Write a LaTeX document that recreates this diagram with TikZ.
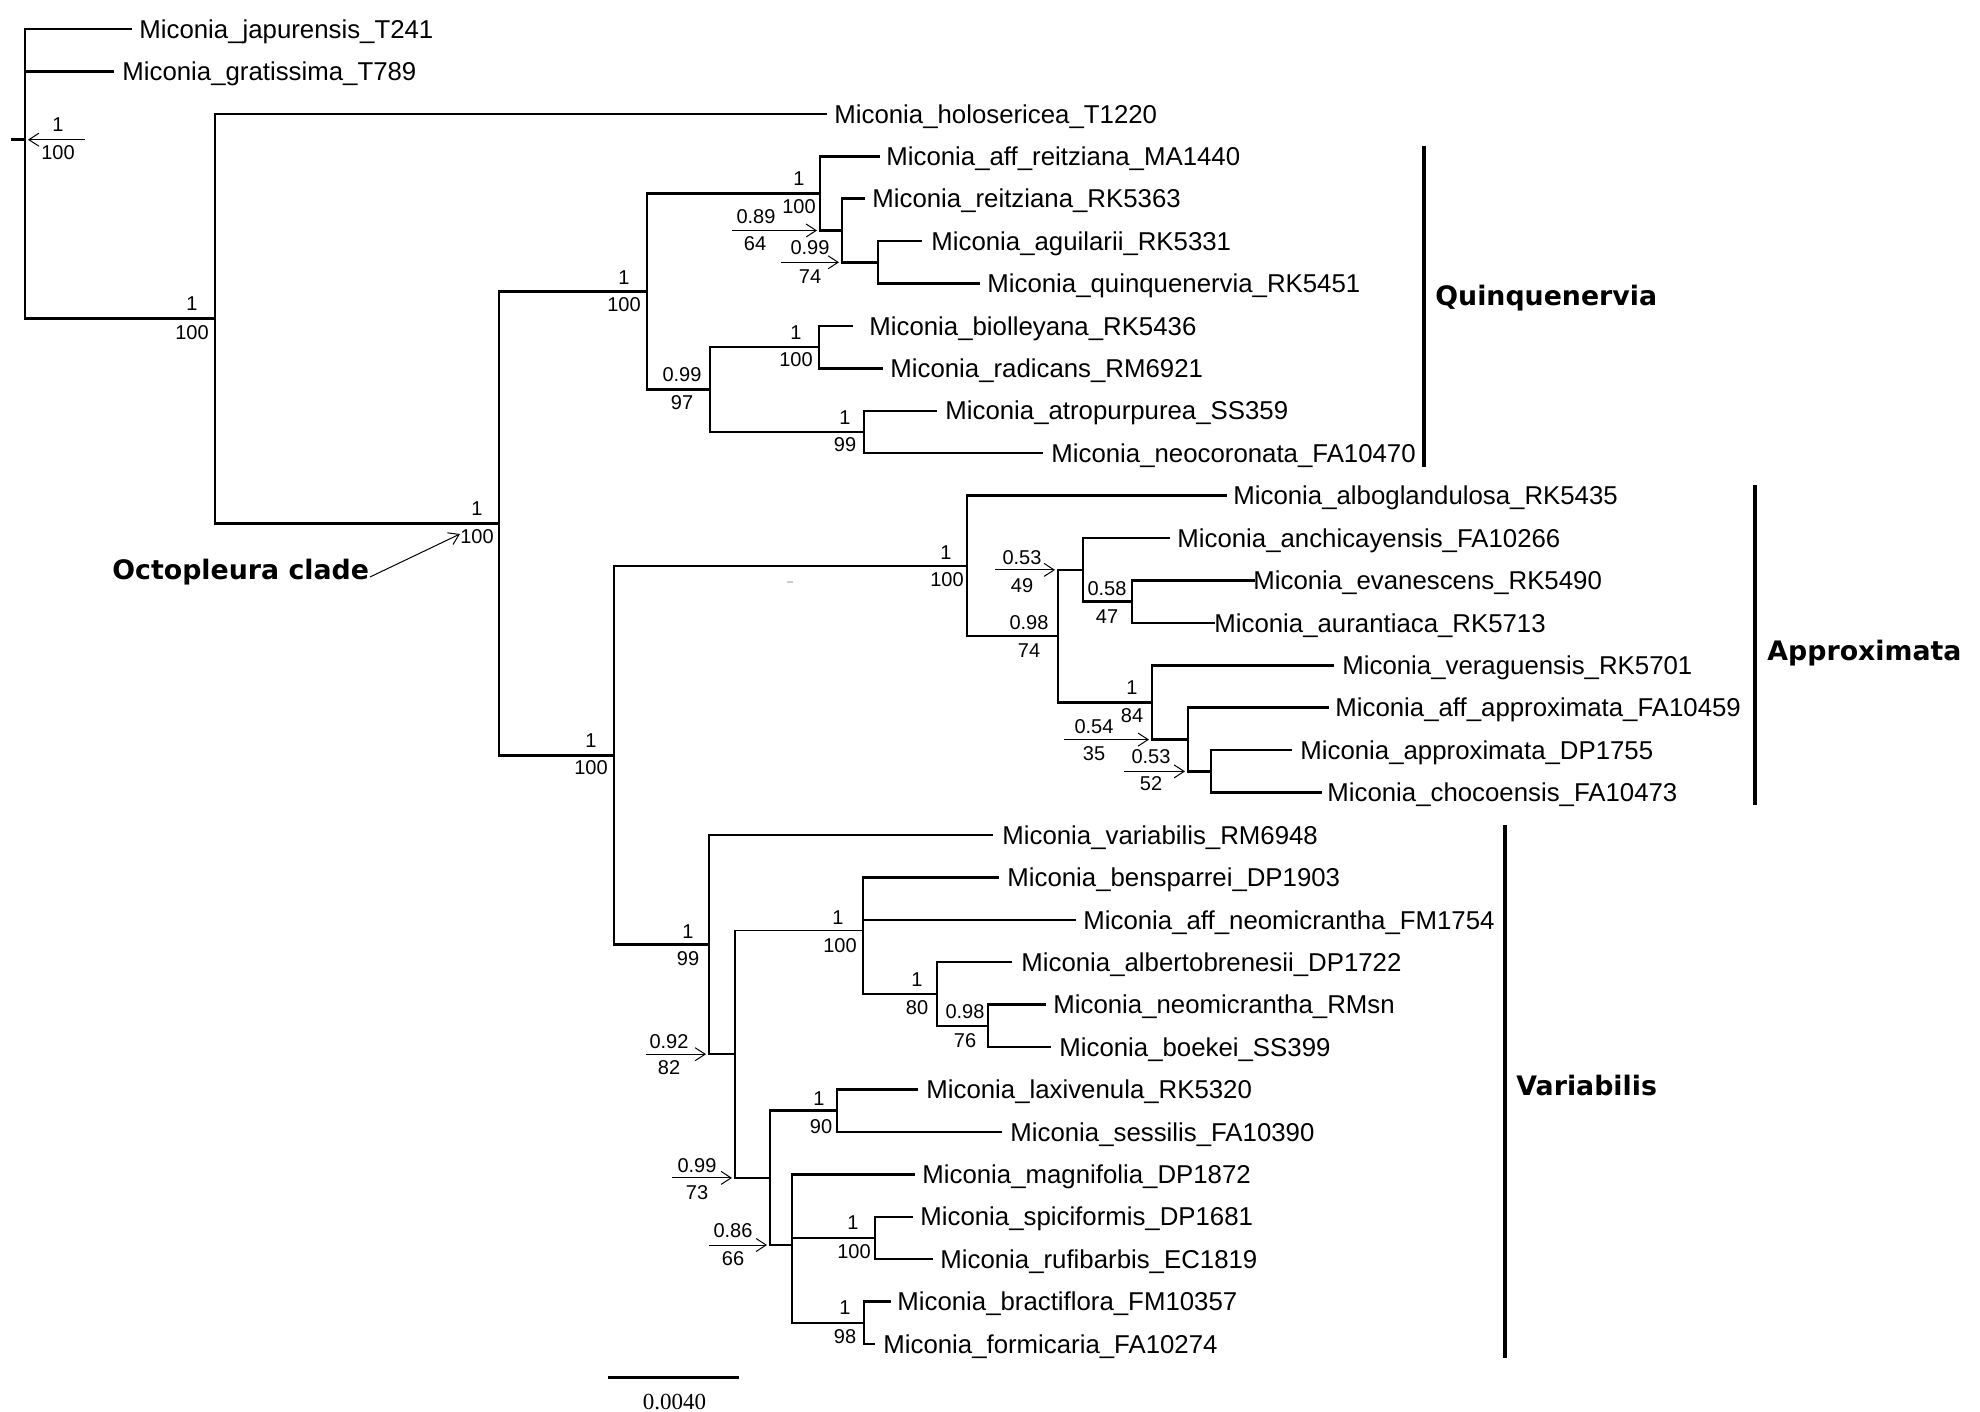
\documentclass[tikz,border=0pt]{standalone}
\usepackage{fontspec}
\setmainfont{Liberation Sans}
\newfontfamily\cladefam{DejaVu Sans}
\newfontfamily\scalefam{Liberation Serif}
\usetikzlibrary{arrows.meta}
\newcommand\tipfont{\fontsize{12.9pt}{15pt}\selectfont}
\newcommand\svfont{\fontsize{10pt}{12pt}\selectfont}
\newcommand\cladefont{\cladefam\bfseries\fontsize{13.4pt}{16pt}\selectfont}
\newcommand\mytip[4]{%
  \coordinate (e#1) at (#2,{29+42.42*#1});
  \node[tip] (n#1) at (#3,{29+42.42*#1}) {#4};}
\newcommand\mysv[4]{\node[sv] (#1) at (#2,#3) {#4};}
\begin{document}
\begin{tikzpicture}[x=0.5pt,y=-0.5pt,
  br/.style={line width=1.25pt, line join=miter},
  thinbr/.style={line width=0.8pt, line join=miter},
  brk/.style={line width=1.6pt},
  sarrow/.style={line width=0.5pt, -{Straight Barb[length=5pt,width=6.5pt]}, shorten >=1.5pt},
  tip/.style={anchor=base west, inner sep=0pt, font=\tipfont, yshift=-4.6pt},
  sv/.style={inner sep=0pt, anchor=center, font=\svfont},
  clade/.style={anchor=base west, inner sep=0pt, font=\cladefont, yshift=-4.9pt}]

\fill[white] (0,0) rectangle (1980,1412);
\useasboundingbox (0,0) rectangle (1980,1412);

% internal nodes
\coordinate (rs) at (11,139.7);
\coordinate (root) at (25,139.7);
\coordinate (A) at (215,318.6);
\coordinate (Oct) at (499,523.4);
\coordinate (Q) at (647,291.5);
\coordinate (Qa) at (820,193.4);
\coordinate (C) at (842,230.5);
\coordinate (D) at (878,262.3);
\coordinate (E) at (710,389.6);
\coordinate (F) at (819,347.2);
\coordinate (G) at (864,432);
\coordinate (H) at (614,755.3);
\coordinate (I) at (967,565.9);
\coordinate (J) at (1058,636.2);
\coordinate (K) at (1083,569.9);
\coordinate (L) at (1132,601.7);
\coordinate (M) at (1152,702.4);
\coordinate (N) at (1188,739.6);
\coordinate (O) at (1211,771.4);
\coordinate (P) at (709,944.6);
\coordinate (Qv) at (735,1054.2);
\coordinate (S) at (863,930.4);
\coordinate (T) at (937,994);
\coordinate (U) at (988,1025.9);
\coordinate (R) at (770,1177.9);
\coordinate (V) at (837,1110.7);
\coordinate (W) at (792,1245);
\coordinate (X) at (875,1238);
\coordinate (Y) at (864,1322.8);

% tips
\mytip{0}{132}{139}{Miconia\_japurensis\_T241}
\mytip{1}{114}{122}{Miconia\_gratissima\_T789}
\mytip{2}{827}{834}{Miconia\_holosericea\_T1220}
\mytip{3}{880}{886}{Miconia\_aff\_reitziana\_MA1440}
\mytip{4}{865}{872}{Miconia\_reitziana\_RK5363}
\mytip{5}{922}{931}{Miconia\_aguilarii\_RK5331}
\mytip{6}{980}{987}{Miconia\_quinquenervia\_RK5451}
\mytip{7}{853}{869}{Miconia\_biolleyana\_RK5436}
\mytip{8}{883}{890}{Miconia\_radicans\_RM6921}
\mytip{9}{937}{945}{Miconia\_atropurpurea\_SS359}
\mytip{10}{1043}{1051}{Miconia\_neocoronata\_FA10470}
\mytip{11}{1227}{1233}{Miconia\_alboglandulosa\_RK5435}
\mytip{12}{1170}{1177}{Miconia\_anchicayensis\_FA10266}
\mytip{13}{1255}{1253}{Miconia\_evanescens\_RK5490}
\mytip{14}{1215}{1214}{Miconia\_aurantiaca\_RK5713}
\mytip{15}{1334}{1342}{Miconia\_veraguensis\_RK5701}
\mytip{16}{1329}{1335}{Miconia\_aff\_approximata\_FA10459}
\mytip{17}{1292}{1300}{Miconia\_approximata\_DP1755}
\mytip{18}{1322}{1327}{Miconia\_chocoensis\_FA10473}
\mytip{19}{993}{1002}{Miconia\_variabilis\_RM6948}
\mytip{20}{999}{1007}{Miconia\_bensparrei\_DP1903}
\mytip{21}{1076}{1083}{Miconia\_aff\_neomicrantha\_FM1754}
\mytip{22}{1012}{1021}{Miconia\_albertobrenesii\_DP1722}
\mytip{23}{1046}{1053}{Miconia\_neomicrantha\_RMsn}
\mytip{24}{1051}{1059}{Miconia\_boekei\_SS399}
\mytip{25}{918}{926}{Miconia\_laxivenula\_RK5320}
\mytip{26}{1002}{1010}{Miconia\_sessilis\_FA10390}
\mytip{27}{915}{922}{Miconia\_magnifolia\_DP1872}
\mytip{28}{913}{920}{Miconia\_spiciformis\_DP1681}
\mytip{29}{933}{940}{Miconia\_rufibarbis\_EC1819}
\mytip{30}{891}{897}{Miconia\_bractiflora\_FM10357}
\mytip{31}{875}{883}{Miconia\_formicaria\_FA10274}

% branches
\draw[br] (rs) -- (root);
\draw[br] (root) |- (e0);
\draw[br] (root) |- (e1);
\draw[br] (root) |- (A);
\draw[br] (A) |- (e2);
\draw[br] (A) |- (Oct);
\draw[br] (Oct) |- (Q);
\draw[br] (Oct) |- (H);
\draw[br] (Q) |- (Qa);
\draw[br] (Q) |- (E);
\draw[br] (Qa) |- (e3);
\draw[br] (Qa) |- (C);
\draw[br] (C) |- (e4);
\draw[br] (C) |- (D);
\draw[br] (D) |- (e5);
\draw[br] (D) |- (e6);
\draw[br] (E) |- (F);
\draw[br] (E) |- (G);
\draw[br] (F) |- (e7);
\draw[br] (F) |- (e8);
\draw[br] (G) |- (e9);
\draw[br] (G) |- (e10);
\draw[br] (H) |- (I);
\draw[br] (H) |- (P);
\draw[br] (I) |- (e11);
\draw[br] (I) |- (J);
\draw[br] (J) |- (K);
\draw[br] (J) |- (M);
\draw[br] (K) |- (e12);
\draw[br] (K) |- (L);
\draw[br] (L) |- (e13);
\draw[br] (L) |- (e14);
\draw[br] (M) |- (e15);
\draw[br] (M) |- (N);
\draw[br] (N) |- (e16);
\draw[br] (N) |- (O);
\draw[br] (O) |- (e17);
\draw[br] (O) |- (e18);
\draw[br] (P) |- (e19);
\draw[br] (P) |- (Qv);
\draw[thinbr] (Qv) |- (S);
\draw[br] (Qv) |- (R);
\draw[br] (S) |- (e20);
\draw[br] (S) |- (e21);
\draw[br] (S) |- (T);
\draw[br] (T) |- (e22);
\draw[br] (T) |- (U);
\draw[br] (U) |- (e23);
\draw[br] (U) |- (e24);
\draw[br] (R) |- (V);
\draw[br] (R) |- (W);
\draw[br] (V) |- (e25);
\draw[br] (V) |- (e26);
\draw[br] (W) |- (e27);
\draw[br] (W) |- (X);
\draw[br] (W) |- (Y);
\draw[br] (X) |- (e28);
\draw[br] (X) |- (e29);
\draw[br] (Y) |- (e30);
\draw[br] (Y) |- (e31);

% support values (plain)
\mysv{sA1}{192}{304}{1}      \mysv{sA2}{192}{333}{100}
\mysv{sQ1}{624}{278}{1}      \mysv{sQ2}{624}{305}{100}
\mysv{sO1}{477}{509}{1}      \mysv{sO2}{477}{537}{100}
\mysv{sQa1}{799}{179}{1}     \mysv{sQa2}{799}{207}{100}
\mysv{sE1}{682}{375}{0.99}   \mysv{sE2}{682}{403}{97}
\mysv{sF1}{796}{333}{1}      \mysv{sF2}{796}{360}{100}
\mysv{sG1}{845}{418}{1}      \mysv{sG2}{845}{445}{99}
\mysv{sH1}{591}{741}{1}      \mysv{sH2}{591}{768}{100}
\mysv{sI1}{946}{553}{1}      \mysv{sI2}{947}{580}{100}
\mysv{sJ1}{1029}{623}{0.98}  \mysv{sJ2}{1029}{651}{74}
\mysv{sL1}{1107}{589}{0.58}  \mysv{sL2}{1107}{617}{47}
\mysv{sM1}{1132}{688}{1}     \mysv{sM2}{1132}{716}{84}
\mysv{sP1}{688}{932}{1}      \mysv{sP2}{688}{959}{99}
\mysv{sS1}{838}{918}{1}      \mysv{sS2}{840}{946}{100}
\mysv{sT1}{917}{980}{1}      \mysv{sT2}{917}{1008}{80}
\mysv{sU1}{965}{1012}{0.98}  \mysv{sU2}{965}{1041}{76}
\mysv{sV1}{819}{1099}{1}     \mysv{sV2}{821}{1127}{90}
\mysv{sX1}{853}{1223}{1}     \mysv{sX2}{854}{1252}{100}
\mysv{sY1}{845}{1308}{1}     \mysv{sY2}{845}{1337}{98}

% support values with arrows
\mysv{sR01}{58}{125}{1}      \mysv{sR02}{58}{153}{100}
\coordinate (aR0) at (85,139.7);
\draw[sarrow] (aR0) -- (root);

\mysv{sC1}{756}{217}{0.89}   \mysv{sC2}{755}{244}{64}
\coordinate (aC) at (732,230.5);
\draw[sarrow] (aC) -- (Qa |- C);

\mysv{sD1}{810}{248}{0.99}   \mysv{sD2}{810}{277}{74}
\coordinate (aD) at (781,262.3);
\draw[sarrow] (aD) -- (C |- D);

\mysv{sK1}{1022}{558}{0.53}  \mysv{sK2}{1022}{586}{49}
\coordinate (aK) at (995,569.9);
\draw[sarrow] (aK) -- (J |- K);

\mysv{sN1}{1094}{727}{0.54}  \mysv{sN2}{1094}{754}{35}
\coordinate (aN) at (1064,739.6);
\draw[sarrow] (aN) -- (M |- N);

\mysv{sOO1}{1151}{757}{0.53} \mysv{sOO2}{1151}{784}{52}
\coordinate (aO) at (1124,771.4);
\draw[sarrow] (aO) -- (N |- O);

\mysv{sQv1}{669}{1042}{0.92} \mysv{sQv2}{669}{1068}{82}
\coordinate (aQv) at (646,1054.2);
\draw[sarrow] (aQv) -- (P |- Qv);

\mysv{sR1}{697}{1166}{0.99}  \mysv{sR2}{697}{1193}{73}
\coordinate (aR) at (672,1177.9);
\draw[sarrow] (aR) -- (Qv |- R);

\mysv{sW1}{733}{1231}{0.86}  \mysv{sW2}{733}{1259}{66}
\coordinate (aW) at (709,1245);
\draw[sarrow] (aW) -- (R |- W);

% Octopleura clade
\node[clade] (octlab) at (112,570) {Octopleura clade};
\coordinate (octa) at (370,577);
\coordinate (octb) at (460,534);
\draw[sarrow, shorten >=0pt] (octa) -- (octb);

% clade brackets
\coordinate (qb1) at (1424,146);  \coordinate (qb2) at (1424,467);
\draw[brk] (qb1) -- (qb2);
\node[clade] (qlab) at (1435,296) {Quinquenervia};

\coordinate (ab1) at (1755,485);  \coordinate (ab2) at (1755,805);
\draw[brk] (ab1) -- (ab2);
\node[clade] (alab) at (1767,651) {Approximata};

\coordinate (vb1) at (1505,825);  \coordinate (vb2) at (1505,1358);
\draw[brk] (vb1) -- (vb2);
\node[clade] (vlab) at (1516,1086) {Variabilis};

% scale bar
\coordinate (sb1) at (608,1377.5);  \coordinate (sb2) at (739,1377.5);
\draw[br] (sb1) -- (sb2);
\node[inner sep=0pt, anchor=base, font=\scalefam\fontsize{11.5pt}{13pt}\selectfont] (sbl) at (674.5,1409) {0.0040};

% faint artifact
\coordinate (fa1) at (787,582); \coordinate (fa2) at (793,582);
\draw[gray!40, line width=0.6pt] (fa1) -- (fa2);
\end{tikzpicture}
\end{document}
